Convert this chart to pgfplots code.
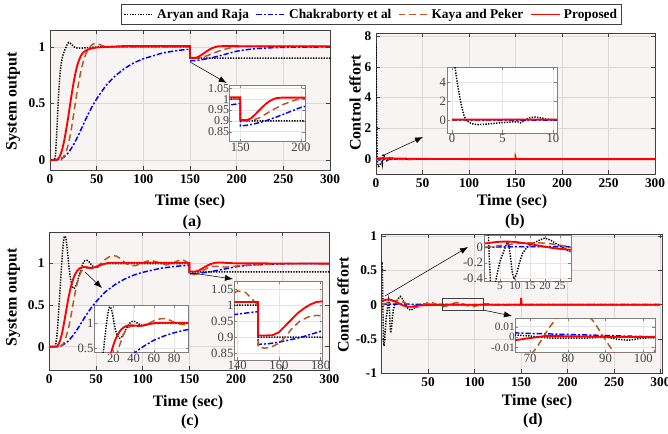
\documentclass[border=0pt]{standalone}
\usepackage{fontspec}
\setmainfont{Liberation Serif}
\usepackage{pgfplots}
\usepackage{pgfplotstable}
\pgfplotsset{compat=1.18}
\usetikzlibrary{arrows.meta}
\definecolor{bgpink}{HTML}{F8F4F4}
\definecolor{gridc}{HTML}{DDD8D8}
\definecolor{axc}{HTML}{404040}
\definecolor{brownK}{HTML}{B8561E}
\definecolor{blueC}{HTML}{0000FF}
\tikzset{
  aryan/.style={black, line width=1.1pt, dash pattern=on 1pt off 1pt},
  chak/.style={blueC, line width=1.1pt, dash pattern=on 4pt off 1.5pt on 1.5pt off 1.5pt},
  kaya/.style={brownK, line width=1.1pt, dash pattern=on 5pt off 3pt},
  prop/.style={red, line width=1.4pt},
  arr/.style={-{Latex[length=6pt,width=4.5pt]}, line width=0.4pt, black},
  lab/.style={font=\bfseries\fontsize{12}{14}\selectfont},
}
\pgfplotsset{
  mainax/.style={scale only axis, anchor=north west,
    axis background/.style={fill=bgpink},
    xmajorgrids, ymajorgrids, major grid style={gridc, line width=0.4pt},
    axis line style={axc, line width=0.5pt}, tick style={axc, line width=0.5pt},
    tick align=inside, major tick length=3pt,
    ticklabel style={font=\bfseries\fontsize{10}{12}\selectfont},
    /pgf/number format/assume math mode=true, scaled ticks=false},
  inax/.style={scale only axis, anchor=north west,
    axis background/.style={fill=white},
    xmajorgrids, ymajorgrids, major grid style={gridc!70, line width=0.3pt},
    axis line style={gray, line width=0.5pt}, tick style={gray},
    tick align=inside, major tick length=2pt,
    ticklabel style={font=\fontsize{9.5}{10}\selectfont, text=axc, inner sep=0.5pt},
    /pgf/number format/assume math mode=true, scaled ticks=false},
}

% ---- (a) step response
\pgfplotstableread{
t y
0 0
5 0
6 0.05
7 0.2
8 0.38
9 0.55
10 0.68
11 0.78
12 0.85
13 0.9
14 0.93
15 0.955
16 0.975
17 0.995
18 1.015
19 1.03
20 1.04
21 1.038
22 1.03
24 1.015
26 1.0
28 0.992
30 0.99
35 0.99
40 0.993
50 1.0
150 1.0
150.01 0.9
300 0.9
}\aAR
\pgfplotstableread{
t y
0 0
8 0
10 0.005
15 0.025
20 0.065
25 0.13
30 0.21
35 0.3
40 0.39
45 0.47
50 0.54
55 0.6
60 0.66
70 0.745
80 0.81
90 0.86
100 0.895
110 0.92
120 0.945
130 0.96
140 0.972
150 0.98
150.01 0.877
155 0.879
160 0.884
170 0.898
180 0.918
190 0.94
200 0.962
210 0.975
220 0.985
240 0.994
260 0.998
300 1.0
}\aCH
\pgfplotstableread{
t y
0 0
12 0
14 0.02
16 0.05
18 0.09
20 0.15
22 0.23
24 0.33
26 0.44
28 0.55
30 0.65
32 0.74
34 0.82
36 0.88
38 0.93
40 0.965
42 0.99
44 1.01
46 1.025
48 1.03
50 1.03
52 1.025
55 1.015
58 1.005
62 1.0
150 1.0
150.01 0.905
153 0.9
156 0.9
160 0.903
165 0.912
170 0.928
175 0.945
180 0.96
185 0.975
190 0.985
195 0.995
200 1.002
205 1.005
300 1.005
}\aKP
\pgfplotstableread{
t y
0 0
7 0
9 0.01
11 0.04
13 0.09
15 0.16
17 0.25
19 0.35
21 0.46
23 0.57
25 0.67
27 0.76
29 0.83
31 0.88
33 0.92
35 0.945
37 0.96
40 0.975
45 0.988
50 0.995
60 1.0
80 1.008
150 1.008
150.01 0.905
153 0.903
156 0.904
159 0.912
162 0.928
165 0.945
168 0.962
171 0.978
174 0.99
177 0.999
180 1.005
185 1.007
300 1.005
}\aPR

% ---- (b) control effort
\pgfplotstableread{
t y
0 7.5
0.2 6.2
0.4 4.8
0.6 3.4
0.8 2.2
1.0 1.2
1.2 0.4
1.4 0
1.7 -0.25
2.0 -0.4
2.5 -0.48
3 -0.47
4 -0.38
5 -0.28
6 -0.2
6.5 -0.18
6.8 -0.3
7.2 -0.05
7.7 0.25
8.2 0.3
8.7 0.25
9.3 0.1
10 0
12 -0.15
14 0.05
16 0.1
20 0
300 0
}\bAR
\pgfplotstableread{
t y
0 0
1 -0.03
3 -0.05
6 -0.04
10 -0.02
20 -0.01
40 0
300 0
}\bCH
\pgfplotstableread{
t y
0 0
3 0.02
8 0.04
15 0.03
25 -0.02
35 -0.03
50 0
300 0
}\bKP
\pgfplotstableread{
t y
0 0.05
10 0.05
20 0.04
40 0.02
60 0.01
100 0
149.9 0
150 0.12
150.5 0.02
152 0
300 0
}\bPR

% ---- (c) step response
\pgfplotstableread{
t y
0 0
6 0
7 0.04
8 0.12
9 0.25
10 0.42
11 0.6
12 0.78
13 0.96
14 1.12
15 1.25
16 1.32
17 1.33
18 1.29
19 1.2
20 1.09
21 0.97
22 0.87
23 0.8
24 0.75
25 0.715
26 0.7
27 0.705
28 0.72
30 0.78
32 0.86
34 0.94
36 1.0
38 1.035
40 1.04
42 1.03
44 1.0
46 0.975
48 0.96
50 0.955
52 0.96
55 0.98
58 0.995
62 1.0
150 1.0
150.01 0.9
300 0.9
}\cAR
\pgfplotstableread{
t y
0 0
12 0
14 0.02
16 0.06
18 0.12
20 0.2
22 0.3
24 0.42
26 0.55
28 0.67
30 0.77
32 0.85
34 0.9
36 0.93
38 0.94
40 0.945
44 0.94
48 0.945
52 0.97
56 1.01
60 1.05
64 1.08
68 1.095
72 1.09
76 1.06
80 1.02
84 0.99
88 0.975
92 0.975
96 0.99
100 1.01
105 1.03
110 1.035
115 1.02
120 1.0
125 0.985
130 0.99
135 1.02
140 1.045
144 1.04
147 1.02
149.99 1.0
150 0.87
153 0.865
156 0.868
160 0.88
163 0.9
166 0.925
170 0.95
174 0.963
178 0.968
182 0.966
186 0.96
190 0.958
195 0.963
200 0.97
210 0.98
220 0.985
230 0.99
240 0.995
260 1.0
300 1.0
}\cKP
\pgfplotstableread{
t y
0 0
8 0
10 0.03
12 0.09
14 0.18
16 0.3
18 0.43
20 0.56
22 0.67
24 0.76
26 0.83
28 0.88
30 0.915
32 0.94
35 0.955
38 0.96
41 0.955
44 0.948
47 0.95
50 0.96
54 0.98
58 0.995
62 1.005
66 1.01
70 1.01
150 1.01
150.01 0.905
154 0.905
157 0.906
160 0.915
163 0.935
166 0.955
169 0.975
172 0.99
175 1.002
178 1.01
182 1.013
186 1.012
190 1.008
200 1.003
300 1.0
}\cPR

% ---- (d) control effort
\pgfplotstableread{
t y
0 0.6
0.5 0.62
1 0.3
1.5 -0.2
2 -0.55
2.5 -0.6
3 -0.55
4 -0.35
5 -0.18
6 -0.08
7 0.03
7.5 0.07
8 0.02
8.5 -0.12
9 -0.3
9.7 -0.41
10.5 -0.35
11.5 -0.2
12.5 -0.08
14 0
16 0.05
18 0.09
20 0.12
22 0.09
24 0.04
26 0
28 -0.05
31 -0.08
34 -0.06
37 -0.03
40 -0.005
45 0.005
50 0.005
60 0
66 0.002
70 0.001
75 -0.001
80 -0.001
85 -0.001
90 0
93 -0.002
96 -0.003
100 -0.001
110 0
300 0
}\dAR
\pgfplotstableread{
t y
0 0
3 0.003
6 0.006
10 0.008
15 0.009
20 0.01
25 0.009
30 0.007
40 0.006
50 0.005
60 0.0045
66 0.004
70 0.0035
75 0.003
80 0.0025
85 0.002
90 0.0015
95 0.001
100 0.0005
110 0
300 0
}\dCH
\pgfplotstableread{
t y
0 0
3 0.012
6 0.028
9 0.042
12 0.052
15 0.058
18 0.058
21 0.05
24 0.035
27 0.014
30 -0.01
33 -0.03
36 -0.038
39 -0.034
42 -0.02
45 0
48 0.022
51 0.034
54 0.03
57 0.018
60 0
63 -0.02
66 -0.03
69 -0.023
72 -0.0087
75 0.0087
78 0.023
81 0.0298
84 0.0265
87 0.0142
90 -0.003
93 -0.0191
96 -0.0287
99 -0.0288
102 -0.0189
105 -0.0028
108 0.008
112 0.014
116 0.01
120 0.002
125 -0.006
130 -0.008
135 -0.004
140 0
300 0
}\dKP
\pgfplotstableread{
t y
0 0.05
2 0.06
4 0.07
7 0.075
10 0.07
13 0.055
16 0.035
19 0.015
22 -0.005
25 -0.02
28 -0.03
32 -0.03
36 -0.02
40 -0.012
45 -0.008
50 -0.006
55 -0.005
60 -0.004
66 -0.003
70 -0.001
74 0.001
80 0.0008
90 0.0002
100 0
149.9 0
150 0.1
150.5 0.01
152 0
300 0
}\dPR

\begin{document}
\begin{tikzpicture}
\useasboundingbox (0,0) rectangle (501pt,-324.75pt);

% (a)
\begin{axis}[mainax, at={(37.5pt,-22.5pt)}, width=210pt, height=105pt,
  xmin=0, xmax=300, ymin=-0.09, ymax=1.15,
  xtick={0,50,...,300}, ytick={0,0.5,1},
  legend style={at={(1.149,1.111)}, anchor=center, legend columns=4,
    draw=axc, line width=0.5pt, fill=white,
    font=\bfseries\fontsize{10}{12}\selectfont, inner sep=1.5pt,
    /tikz/every even column/.append style={column sep=3pt}},
  legend image code/.code={\draw[#1] (0pt,0pt) -- (22pt,0pt);}]
\addplot[aryan] table {\aAR}; \addlegendentry{Aryan and Raja}
\addplot[chak] table {\aCH}; \addlegendentry{Chakraborty et al}
\addplot[kaya] table {\aKP}; \addlegendentry{Kaya and Peker}
\addplot[prop] table {\aPR}; \addlegendentry{Proposed}
\end{axis}

% (b)
\begin{axis}[mainax, at={(282pt,-24.75pt)}, width=209.25pt, height=105.75pt,
  xmin=0, xmax=300, ymin=-0.97, ymax=8.2,
  xtick={0,50,...,300}, ytick={0,2,4,6,8}]
\addplot[aryan] table {\bAR};
\addplot[chak] table {\bCH};
\addplot[kaya] table {\bKP};
\addplot[prop] table {\bPR};
\end{axis}

% (c)
\begin{axis}[mainax, at={(37pt,-174pt)}, width=210pt, height=103.5pt,
  xmin=0, xmax=300, ymin=-0.28, ymax=1.38,
  xtick={0,50,...,300}, ytick={0,0.5,1}]
\addplot[aryan] table {\cAR};
\addplot[chak] table {\aCH};
\addplot[kaya] table {\cKP};
\addplot[prop] table {\cPR};
\end{axis}

% (d)
\begin{axis}[mainax, at={(286.25pt,-175.5pt)}, width=210.5pt, height=104.5pt,
  xmin=0, xmax=302, ymin=-1, ymax=1.03,
  xtick={50,100,...,300}, ytick={-1,-0.5,0,0.5,1}]
\addplot[aryan] table {\dAR};
\addplot[chak] table {\dCH};
\addplot[kaya] table {\dKP};
\addplot[prop] table {\dPR};
\draw[axc, line width=0.5pt] (axis cs:65,-0.085) rectangle (axis cs:109,0.09);
\end{axis}

% insets
\begin{axis}[inax, at={(172pt,-63.75pt)}, width=56.75pt, height=42.5pt,
  xmin=141, xmax=203.3, ymin=0.804, ymax=1.065,
  xtick={150,200}, ytick={0.85,0.9,0.95,1,1.05},
  yticklabels={0.85,0.9,0.95,1,1.05},
  yticklabel style={font=\fontsize{9}{9}\selectfont, inner sep=0pt}]
\addplot[aryan] table {\aAR};
\addplot[chak] table {\aCH};
\addplot[kaya] table {\aKP};
\addplot[prop] table {\aPR};
\end{axis}

\begin{axis}[inax, at={(335.25pt,-50.25pt)}, width=82.5pt, height=49.5pt,
  xmin=-0.5, xmax=10.4, ymin=-1.37, ymax=5.58,
  xtick={0,5,10}, ytick={0,2,4}]
\addplot[aryan] table {\bAR};
\addplot[chak] table {\bCH};
\addplot[kaya] table {\bKP};
\addplot[prop] table {\bPR};
\end{axis}

\begin{axis}[inax, at={(70.75pt,-228.75pt)}, width=70.5pt, height=35.75pt,
  xmin=1.2, xmax=94, ymin=0.41, ymax=1.367,
  xtick={20,40,60,80}, ytick={0.5,1}]
\addplot[aryan] table {\cAR};
\addplot[chak] table {\aCH};
\addplot[kaya] table {\cKP};
\addplot[prop] table {\cPR};
\end{axis}

\begin{axis}[inax, at={(175.75pt,-210.75pt)}, width=66.25pt, height=59.25pt,
  xmin=138.6, xmax=181, ymin=0.828, ymax=1.076,
  xtick={140,160,180}, ytick={0.85,0.9,0.95,1,1.05},
  yticklabels={0.85,0.9,0.95,1,1.05}]
\addplot[aryan] table {\cAR};
\addplot[chak] table {\aCH};
\addplot[kaya] table {\cKP};
\addplot[prop] table {\cPR};
\end{axis}

\begin{axis}[inax, at={(363pt,-176.25pt)}, width=65.25pt, height=35pt,
  xmin=-0.33, xmax=28.7, ymin=-0.443, ymax=0.159,
  xtick={5,10,...,25}, ytick={-0.4,-0.2,0},
  yticklabels={-0.4,-0.2,0},
  xticklabel style={font=\fontsize{8.5}{9}\selectfont, inner sep=0pt}]
\addplot[aryan] table {\dAR};
\addplot[chak] table {\dCH};
\addplot[kaya] table {\dKP};
\addplot[prop] table {\dPR};
\end{axis}

\begin{axis}[inax, at={(386.25pt,-238.75pt)}, width=105pt, height=25.75pt,
  xmin=66, xmax=103.1, ymin=-0.015, ymax=0.018,
  xtick={70,80,90,100}, ytick={-0.01,0,0.01},
  yticklabels={-0.01,0,0.01},
  yticklabel style={font=\fontsize{8.5}{9}\selectfont, inner sep=0pt}]
\addplot[aryan] table {\dAR};
\addplot[chak] table {\dCH};
\addplot[kaya] table {\dKP};
\addplot[prop] table {\dPR};
\end{axis}

% arrows
\draw[arr] (142.5pt,-46.5pt) -- (170pt,-62.25pt);
\draw[arr] (286.5pt,-117pt) -- (317.25pt,-102.75pt);
\draw[arr] (63.75pt,-204pt) -- (76.5pt,-216pt);
\draw[arr] (144pt,-204.75pt) -- (174.75pt,-209.25pt);
\draw[arr] (288.75pt,-222pt) -- (351pt,-185.25pt);
\draw[arr] (362.25pt,-232.5pt) -- (384pt,-237pt);

% labels
\node[lab] at (142.5pt,-151.5pt) {Time (sec)};
\node[lab] at (384pt,-151.5pt) {Time (sec)};
\node[lab] at (141pt,-302.25pt) {Time (sec)};
\node[lab] at (402.75pt,-301.5pt) {Time (sec)};
\node[lab] at (144pt,-167.25pt) {(a)};
\node[lab] at (386.25pt,-166.5pt) {(b)};
\node[lab] at (142.5pt,-316.5pt) {(c)};
\node[lab] at (399.75pt,-315.75pt) {(d)};
\node[lab, rotate=90] at (9.75pt,-75.75pt) {System output};
\node[lab, rotate=90] at (266.25pt,-77.25pt) {Control effort};
\node[lab, rotate=90] at (9.75pt,-222.75pt) {System output};
\node[lab, rotate=90] at (257.25pt,-228.75pt) {Control effort};
\end{tikzpicture}
\end{document}
